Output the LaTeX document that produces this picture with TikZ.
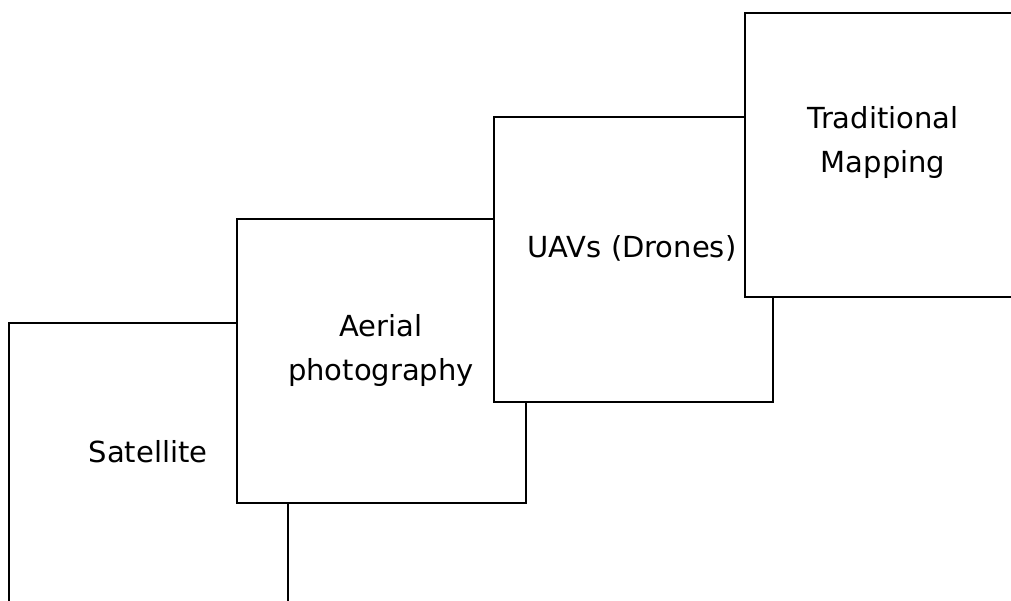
\documentclass[tikz,border=0pt]{standalone}
\usepackage{fontspec}
\setmainfont{DejaVu Sans}
\begin{document}
\begin{tikzpicture}[x=1pt,y=-1pt,
  box/.style={draw=black, fill=white, line width=2pt, inner sep=0pt},
  lbl/.style={align=center, inner sep=0pt, font=\fontsize{29}{44}\selectfont}]
\clip (0,0) rectangle (1011,601);
\fill[white] (0,0) rectangle (1011,601);
\node[box, minimum width=279pt, minimum height=284pt] (sat) at (148.5,465) {};
\node[lbl] (satt) at (148,452) {Satellite};
\node[box, minimum width=289pt, minimum height=284pt] (aer) at (381.5,361) {};
\node[lbl] (aert) at (381,350) {Aerial\\photography};
\node[box, minimum width=279pt, minimum height=285pt] (uav) at (633.5,259.5) {};
\node[lbl] (uavt) at (632,248) {UAVs (Drones)};
\node[box, minimum width=280pt, minimum height=284pt] (trad) at (885,155) {};
\node[lbl] (tradt) at (883,143) {Traditional\\Mapping};
\end{tikzpicture}
\end{document}
